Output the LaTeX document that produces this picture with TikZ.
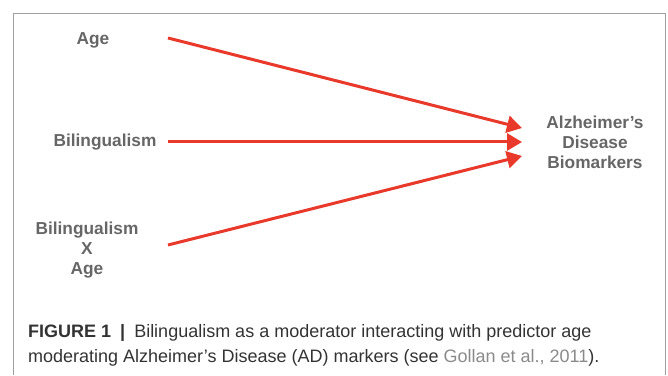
\documentclass[tikz,border=0pt]{standalone}
\usepackage{fontspec}
\setmainfont{Liberation Sans}
\usetikzlibrary{arrows.meta}
\definecolor{labelgray}{HTML}{666666}
\definecolor{arrowred}{HTML}{E8392B}
\definecolor{framegray}{HTML}{A0A0A0}
\definecolor{citegray}{HTML}{8A8A8A}
\tikzset{
  lbl/.style={text=labelgray, font=\fontsize{17.3}{20}\selectfont\bfseries, align=center, inner sep=0pt},
  pointer/.style={draw=arrowred, line width=3pt, -{Triangle[length=15pt,width=17pt]}}
}
\begin{document}
\begin{tikzpicture}[x=1pt,y=1pt]
\useasboundingbox (0,0) rectangle (668,375);
% frame
\draw[framegray, line width=0.8pt] (13,0) -- (13,362) -- (665,362) -- (665,0);
% labels
\node[lbl] (age) at (93,335) {Age};
\node[lbl] (biling) at (105,233) {Bilingualism};
\node[lbl] (inter) at (87,125) {Bilingualism\\X\\Age};
\node[lbl] (ad) at (595,233) {Alzheimer’s\\Disease\\Biomarkers};
\coordinate (s1) at (168,337);
\coordinate (s2) at (168,233);
\coordinate (s3) at (168,130);
\coordinate (e1) at (522,247);
\coordinate (e2) at (522,233);
\coordinate (e3) at (522,219);
\draw[pointer] (s1) -- (e1);
\draw[pointer] (s2) -- (e2);
\draw[pointer] (s3) -- (e3);
% caption
\node[anchor=west, align=left, inner sep=0pt, text=black!80, font=\fontsize{18}{25}\selectfont] (caption) at (28,30)
  {\textbf{FIGURE 1}\hspace{0.5em}\textbf{|}\hspace{0.5em}Bilingualism as a moderator interacting with predictor age\\
   moderating Alzheimer’s Disease (AD) markers (see \textcolor{citegray}{Gollan et al., 2011}).};
\end{tikzpicture}
\end{document}
